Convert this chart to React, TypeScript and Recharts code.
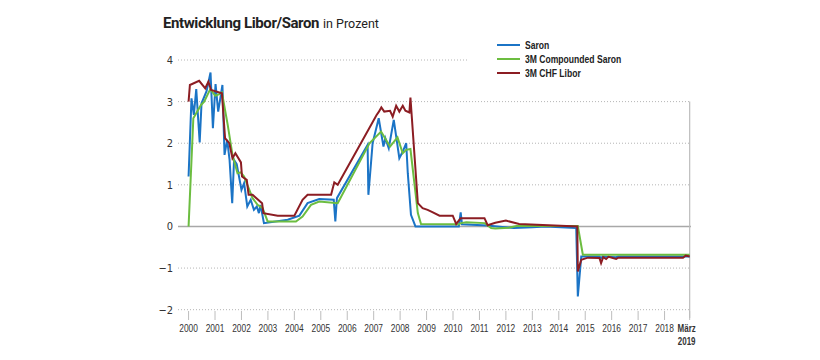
import { LineChart, Line, XAxis, YAxis, ReferenceLine } from "recharts";

const NARROW = "'Liberation Sans Narrow', 'DejaVu Sans Condensed', 'Liberation Sans', sans-serif";
const SANS = "'Liberation Sans', Arial, sans-serif";

// Saron
const saronYears = [
  2000.0, 2000.11, 2000.2, 2000.29, 2000.42, 2000.49, 2000.68, 2000.83, 2000.92, 2001.02,
  2001.12, 2001.28, 2001.36, 2001.46, 2001.55, 2001.65, 2001.72, 2001.82, 2002.0, 2002.1,
  2002.22, 2002.35, 2002.47, 2002.58, 2002.66, 2002.72, 2002.85, 2003.75, 2004.19, 2004.5,
  2004.94, 2005.49, 2005.55, 2005.61, 2006.77, 2006.8, 2006.96, 2007.19, 2007.37, 2007.44,
  2007.57, 2007.76, 2007.97, 2008.1, 2008.23, 2008.29, 2008.41, 2008.58, 2010.22, 2010.29,
  2010.34, 2011.3, 2012.3, 2013.0, 2013.5, 2014.66, 2014.72, 2014.85, 2015.54, 2015.6,
  2015.66, 2016.17, 2016.25, 2018.95,
];
const saronValues = [
  1.2, 3.08, 2.68, 3.3, 2.02, 2.96, 3.25, 3.7, 2.36, 3.42,
  2.76, 3.4, 1.72, 2.08, 1.6, 0.56, 1.6, 1.5, 0.88, 1.04,
  0.48, 0.64, 0.4, 0.48, 0.32, 0.52, 0.08, 0.16, 0.26, 0.56,
  0.66, 0.64, 0.12, 0.68, 1.96, 0.76, 2.0, 2.6, 1.92, 2.12,
  1.88, 2.56, 1.64, 1.8, 2.0, 1.28, 0.28, 0.0, 0.0, 0.34,
  0.05, 0.02, -0.04, -0.02, 0.0, -0.04, -1.68, -0.72, -0.72, -0.76,
  -0.72, -0.74, -0.72, -0.72,
];

// 3M Compounded Saron
const compYears = [
  2000.0, 2000.18, 2000.47, 2000.59, 2000.82, 2001.01, 2001.16, 2001.26, 2001.48, 2001.66,
  2001.85, 2001.97, 2002.1, 2002.42, 2002.61, 2002.8, 2002.99, 2004.06, 2004.31, 2004.63,
  2004.94, 2005.64, 2006.84, 2007.28, 2007.47, 2007.62, 2007.9, 2008.1, 2008.23, 2008.39,
  2008.67, 2008.79, 2010.22, 2010.3, 2010.5, 2011.2, 2011.44, 2011.6, 2012.1, 2012.4,
  2014.72, 2014.91, 2018.95,
];
const compValues = [
  0.0, 2.6, 2.92, 3.0, 3.3, 3.14, 3.18, 3.22, 2.44, 1.72,
  1.28, 1.3, 1.2, 0.68, 0.52, 0.44, 0.12, 0.12, 0.24, 0.52,
  0.6, 0.56, 2.0, 2.28, 2.08, 1.92, 2.14, 1.76, 1.84, 1.86,
  0.32, 0.06, 0.05, 0.08, 0.1, 0.08, -0.04, -0.05, -0.03, 0.01,
  0.01, -0.68, -0.68,
];

// 3M CHF Libor
const liborYears = [
  2000.0, 2000.05, 2000.4, 2000.63, 2000.75, 2000.85, 2001.26, 2001.38, 2001.54, 2001.66,
  2001.77, 2001.98, 2002.02, 2002.2, 2002.27, 2002.42, 2002.78, 2002.83, 2003.37, 2004.0,
  2004.31, 2004.5, 2005.39, 2005.51, 2005.64, 2007.11, 2007.18, 2007.29, 2007.4, 2007.62,
  2007.72, 2007.85, 2007.97, 2008.1, 2008.2, 2008.35, 2008.39, 2008.67, 2008.85, 2009.04,
  2009.2, 2009.49, 2009.99, 2010.12, 2010.29, 2011.19, 2011.31, 2011.6, 2012.0, 2012.5,
  2014.7, 2014.72, 2014.85, 2015.1, 2015.54, 2015.6, 2015.68, 2015.79, 2015.88, 2016.17,
  2016.25, 2018.7, 2018.8, 2018.95,
];
const liborValues = [
  3.0, 3.4, 3.5, 3.32, 3.48, 3.28, 3.2, 2.12, 2.0, 1.64,
  1.76, 1.54, 1.2, 1.12, 0.76, 0.76, 0.56, 0.32, 0.26, 0.26,
  0.64, 0.76, 0.76, 1.06, 1.0, 2.68, 2.74, 2.86, 2.76, 2.78,
  2.64, 2.9, 2.76, 2.9, 2.78, 2.74, 3.1, 0.56, 0.44, 0.4,
  0.35, 0.26, 0.26, 0.06, 0.2, 0.2, 0.03, 0.09, 0.14, 0.06,
  0.0, -1.08, -0.8, -0.75, -0.76, -0.88, -0.74, -0.78, -0.73, -0.78,
  -0.75, -0.75, -0.7, -0.72,
];

const yearTicks = [
  2000, 2001, 2002, 2003, 2004, 2005, 2006, 2007, 2008, 2009,
  2010, 2011, 2012, 2013, 2014, 2015, 2016, 2017, 2018, 2018.95,
];
const valueTicks = [-2, -1, 0, 1, 2, 3, 4];
const seriesNames = ["Saron", "3M Compounded Saron", "3M CHF Libor"];
const seriesColors = ["#1b74c6", "#6cbd40", "#8c1d23"];

const toPoints = (xs: number[], ys: number[]) => xs.map((x, i) => ({ x, y: ys[i] }));
const series = [
  toPoints(saronYears, saronValues),
  toPoints(compYears, compValues),
  toPoints(liborYears, liborValues),
];

function XTick(props: any) {
  const { x, y, payload } = props;
  const last = payload.value > 2018.5;
  return (
    <g>
      <line x1={x} x2={x} y1={y - 7} y2={y + 2} stroke="#bdbdbd" strokeWidth={1} />
      {last ? (
        <text transform={`translate(${x - 3},${y + 14}) scale(0.76,1)`} textAnchor="middle" fontSize={10.5} fontWeight={700} fill="#333" fontFamily={SANS}>
          <tspan x={0}>März</tspan>
          <tspan x={0} dy={13}>2019</tspan>
        </text>
      ) : (
        <text transform={`translate(${x},${y + 14}) scale(0.8,1)`} textAnchor="middle" fontSize={10.5} fill="#333" fontFamily={SANS}>
          {payload.value}
        </text>
      )}
    </g>
  );
}

function YTick(props: any) {
  const { y, payload } = props;
  const v = payload.value;
  return (
    <text x={173} y={y} dy={4} textAnchor="end" fontSize={11} fill="#333" fontFamily={NARROW}>
      {v < 0 ? `−${-v}` : v}
    </text>
  );
}

function LegendBox() {
  return (
    <div style={{ position: "absolute", left: 497, top: 38, fontFamily: SANS, fontSize: 11, fontWeight: 700, color: "#222" }}>
      {seriesNames.map((name, i) => (
        <div key={name} style={{ display: "flex", alignItems: "center", height: 14, whiteSpace: "nowrap" }}>
          <span style={{ display: "inline-block", width: 23, height: 2, background: seriesColors[i], marginRight: 5 }} />
          <span style={{ display: "inline-block", transform: "scaleX(0.78)", transformOrigin: "left center" }}>{name}</span>
        </div>
      ))}
    </div>
  );
}

export default function App() {
  return (
    <div style={{ position: "absolute", left: 0, top: 0, width: 820, height: 360, background: "#fff" }}>
      <div
        style={{
          position: "absolute", left: 163, top: 13, whiteSpace: "nowrap",
          fontFamily: "Roboto, 'Liberation Sans', sans-serif", color: "#222",
        }}
      >
        <span style={{ fontSize: 15, fontWeight: 700, letterSpacing: -0.4 }}>Entwicklung Libor/Saron</span>
        <span style={{ fontSize: 12.5, marginLeft: 4 }}>in Prozent</span>
      </div>
      <LineChart width={820} height={360} margin={{ top: 60, right: 129, bottom: 12, left: 148 }}>
        <XAxis
          type="number" dataKey="x" domain={[1999.6, 2019]} ticks={yearTicks}
          axisLine={false} tickLine={false} tickSize={0} tickMargin={0}
          tick={<XTick />} interval={0} allowDataOverflow height={30}
        />
        <YAxis
          type="number" dataKey="y" domain={[-2.2, 4]} ticks={valueTicks} width={30}
          axisLine={false} tickLine={false} tick={<YTick />} allowDataOverflow
        />
        {valueTicks.filter((v) => v !== 0 && v !== 4).map((v) => (
          <ReferenceLine key={v} y={v} stroke="#b5b5b5" strokeDasharray="1 2" />
        ))}
        <ReferenceLine
          segment={[{ x: 1999.6, y: 4 }, { x: 2010.6, y: 4 }]}
          stroke="#b5b5b5" strokeDasharray="1 2" ifOverflow="visible"
        />
        <ReferenceLine y={0} stroke="#a8a8a8" strokeWidth={1.5} />
        <ReferenceLine
          segment={[{ x: 2018.95, y: 3 }, { x: 2018.95, y: -2.2 }]}
          stroke="#bdbdbd" strokeWidth={1.2} ifOverflow="visible"
        />
        {series.map((data, i) => (
          <Line
            key={seriesNames[i]} data={data} dataKey="y" name={seriesNames[i]}
            type="linear" stroke={seriesColors[i]} strokeWidth={2} dot={false}
            isAnimationActive={false}
          />
        ))}
      </LineChart>
      <LegendBox />
    </div>
  );
}
